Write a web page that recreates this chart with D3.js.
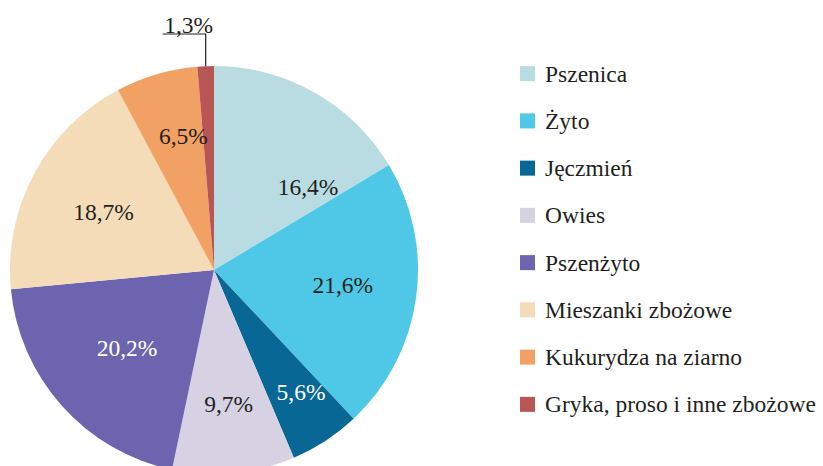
<!DOCTYPE html>
<html>
<head>
<meta charset="utf-8">
<script src="https://cdn.jsdelivr.net/npm/d3@7"></script>
<style>
  body { margin: 0; background: #fff; }
</style>
</head>
<body>
<script>
// =================== Data ======================
var categories = ["Pszenica", "Żyto", "Jęczmień", "Owies", "Pszenżyto",
                  "Mieszanki zbożowe", "Kukurydza na ziarno", "Gryka, proso i inne zbożowe"];
var values = [16.4, 21.6, 5.6, 9.7, 20.2, 18.7, 6.5, 1.3];
var labels = ["16,4%", "21,6%", "5,6%", "9,7%", "20,2%", "18,7%", "6,5%", "1,3%"];

var colors = ["#b9dce2", "#4ec8e6", "#086794", "#d6d2e3", "#6c64ae",
              "#f4dcb9", "#f2a164", "#b85656"];
var labelColors = ["#231f20", "#231f20", "#ffffff", "#231f20", "#ffffff",
                   "#231f20", "#231f20", "#231f20"];
// nudges from the arc centroid (hand placed in the original)
var nudges = [[30, 30], [0, -3], [16, 13], [2, 4], [10, -9], [4, 3], [6, -10], [0, 0]];

// =================== Chart ======================
var width = 823, height = 466,
    cx = 214, cy = 270, radius = 204;
var serif = "Liberation Serif";

var svg = d3.select("body").append("svg")
    .attr("width", width)
    .attr("height", height)
    .attr("font-family", serif);

var g = svg.append("g")
    .attr("transform", "translate(" + cx + "," + cy + ")");

var pie = d3.pie().sort(null).value(function(d) { return d; });
var arcs = pie(values);

var arc = d3.arc().innerRadius(0).outerRadius(radius);
var labelArc = d3.arc().innerRadius(130).outerRadius(130);

g.selectAll(".slice")
    .data(arcs)
    .enter()
    .append("path")
    .attr("class", "slice")
    .attr("d", arc)
    .attr("fill", function(d, i) { return colors[i]; });

// inside labels (all but the last, tiny one)
g.selectAll(".lbl")
    .data(arcs.slice(0, 7))
    .enter()
    .append("text")
    .attr("class", "lbl")
    .attr("x", function(d, i) { return labelArc.centroid(d)[0] + nudges[i][0]; })
    .attr("y", function(d, i) { return labelArc.centroid(d)[1] + nudges[i][1]; })
    .attr("dy", "0.35em")
    .attr("text-anchor", "middle")
    .attr("font-family", serif)
    .attr("font-size", "23.5px")
    .attr("fill", function(d, i) { return labelColors[i]; })
    .text(function(d, i) { return labels[i]; });

// leader line for the small slice
var last = arcs[arcs.length - 1];
var mid = (last.startAngle + last.endAngle) / 2;
var px = radius * Math.sin(mid), py = -radius * Math.cos(mid);
var lineY = 34 - cy;
g.append("polyline")
    .attr("points", [[px, py], [px, lineY], [px - 43, lineY]].map(function(p) { return p.join(","); }).join(" "))
    .attr("fill", "none")
    .attr("stroke", "#231f20")
    .attr("stroke-width", 1.2);

g.append("text")
    .attr("x", px - 17)
    .attr("y", lineY - 1)
    .attr("text-anchor", "middle")
    .attr("font-family", serif)
    .attr("font-size", "23.5px")
    .attr("fill", "#231f20")
    .text(labels[labels.length - 1]);

// =================== Legend ======================
var legendY = d3.scaleBand()
    .domain(categories)
    .range([50, 428]);

var legend = svg.selectAll(".legend")
    .data(categories)
    .enter()
    .append("g")
    .attr("class", "legend")
    .attr("transform", function(d) {
      return "translate(520," + (legendY(d) + legendY.bandwidth() / 2) + ")";
    });

legend.append("rect")
    .attr("x", 0)
    .attr("y", -7.5)
    .attr("width", 15)
    .attr("height", 15)
    .attr("fill", function(d, i) { return colors[i]; });

legend.append("text")
    .attr("x", 25)
    .attr("y", 8)
    .attr("font-family", serif)
    .attr("font-size", "23.5px")
    .attr("fill", "#231f20")
    .text(function(d) { return d; });
</script>
</body>
</html>
